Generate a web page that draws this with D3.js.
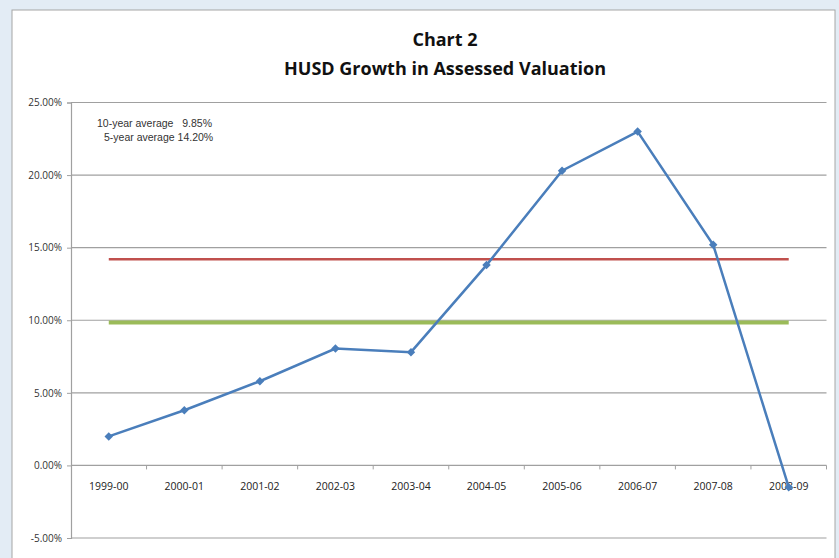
<!DOCTYPE html>
<html>
<head>
<meta charset="utf-8">
<script src="https://cdnjs.cloudflare.com/ajax/libs/d3/7.8.5/d3.min.js"></script>
<style>
  body { margin: 0; background: #e3ecf5; }
  svg { display: block; }
</style>
</head>
<body>
<svg width="839" height="558"></svg>
<script>
var years = ["1999-00", "2000-01", "2001-02", "2002-03", "2003-04",
             "2004-05", "2005-06", "2006-07", "2007-08", "2008-09"];
var growth = [2.0, 3.8, 5.8, 8.05, 7.8, 13.8, 20.3, 23.0, 15.2, -1.5];
var avg10 = 9.85;
var avg5 = 14.20;
var yTicks = [-5, 0, 5, 10, 15, 20, 25];
var notes = ["10-year average   9.85%", "5-year average 14.20%"];

var svg = d3.select("svg"),
    width = +svg.attr("width"),
    height = +svg.attr("height");

// chart frame
svg.append("rect")
    .attr("x", 12).attr("y", 10)
    .attr("width", 823).attr("height", 560)
    .attr("fill", "#fff")
    .attr("stroke", "#a6a6a6")
    .attr("stroke-width", 1);

var plotLeft = 71, plotRight = 826.5, plotTop = 102.5, plotBottom = 538;

var x = d3.scaleBand().domain(years).range([plotLeft, plotRight]);
var y = d3.scaleLinear().domain([-5, 25]).range([plotBottom, plotTop]);

// gridlines
svg.append("g").selectAll("line")
    .data(yTicks)
    .enter().append("line")
    .attr("x1", plotLeft).attr("x2", plotRight)
    .attr("y1", function(d) { return y(d); })
    .attr("y2", function(d) { return y(d); })
    .attr("stroke", "#a0a0a0")
    .attr("stroke-width", 1.2);

// y axis
var yAxis = svg.append("g")
    .attr("transform", "translate(" + plotLeft + ",0)")
    .call(d3.axisLeft(y).tickValues(yTicks).tickSize(4).tickPadding(5)
        .tickFormat(function(d) { return d.toFixed(2) + "%"; }));
yAxis.select(".domain").attr("stroke", "#a0a0a0").attr("stroke-width", 1.2);
yAxis.selectAll(".tick line").attr("stroke", "#a0a0a0");
yAxis.selectAll("text")
    .attr("fill", "#333")
    .style("font-family", "'Open Sans', sans-serif")
    .style("font-size", "10px");

// x axis on the zero line
var boundaries = years.map(function(d) { return x(d); }).concat([plotRight]);
svg.append("g").selectAll("line")
    .data(boundaries.slice(1))
    .enter().append("line")
    .attr("x1", function(d) { return d; }).attr("x2", function(d) { return d; })
    .attr("y1", y(0)).attr("y2", y(0) + 4)
    .attr("stroke", "#a0a0a0");

svg.append("g").selectAll("text")
    .data(years)
    .enter().append("text")
    .attr("x", function(d) { return x(d) + x.bandwidth() / 2; })
    .attr("y", y(0) + 25)
    .attr("text-anchor", "middle")
    .attr("fill", "#222")
    .style("font-family", "'Open Sans', sans-serif")
    .style("font-size", "10.5px")
    .text(function(d) { return d; });

// average lines
var x0 = x(years[0]) + x.bandwidth() / 2,
    x1 = x(years[years.length - 1]) + x.bandwidth() / 2;

svg.append("line")
    .attr("x1", x0).attr("x2", x1)
    .attr("y1", y(avg10)).attr("y2", y(avg10))
    .attr("stroke", "#9bbb59")
    .attr("stroke-width", 4);

svg.append("line")
    .attr("x1", x0).attr("x2", x1)
    .attr("y1", y(avg5)).attr("y2", y(avg5))
    .attr("stroke", "#c0504d")
    .attr("stroke-width", 2.5);

// growth line
var line = d3.line()
    .x(function(d, i) { return x(years[i]) + x.bandwidth() / 2; })
    .y(function(d) { return y(d); });

svg.append("path")
    .datum(growth)
    .attr("d", line)
    .attr("fill", "none")
    .attr("stroke", "#4a7ebb")
    .attr("stroke-width", 2.5);

svg.append("g").selectAll("path")
    .data(growth)
    .enter().append("path")
    .attr("d", d3.symbol().type(d3.symbolSquare).size(36))
    .attr("transform", function(d, i) {
        return "translate(" + (x(years[i]) + x.bandwidth() / 2) + "," + y(d) + ") rotate(45)";
    })
    .attr("fill", "#4a7ebb");

// notes
svg.append("g").selectAll("text")
    .data(notes)
    .enter().append("text")
    .attr("x", function(d, i) { return i == 0 ? 97 : 104; })
    .attr("y", function(d, i) { return 127 + i * 14; })
    .attr("fill", "#333")
    .style("font-family", "'Liberation Sans', Arial, sans-serif")
    .style("font-size", "10.5px")
    .style("white-space", "pre")
    .text(function(d) { return d; });

// titles
svg.append("text")
    .attr("x", 445).attr("y", 46)
    .attr("text-anchor", "middle")
    .attr("fill", "#111")
    .style("font-family", "'Open Sans', sans-serif")
    .style("font-weight", "bold")
    .style("font-size", "18px")
    .text("Chart 2");

svg.append("text")
    .attr("x", 445).attr("y", 75)
    .attr("text-anchor", "middle")
    .attr("fill", "#111")
    .style("font-family", "'Open Sans', sans-serif")
    .style("font-weight", "bold")
    .style("font-size", "18px")
    .text("HUSD Growth in Assessed Valuation");
</script>
</body>
</html>
